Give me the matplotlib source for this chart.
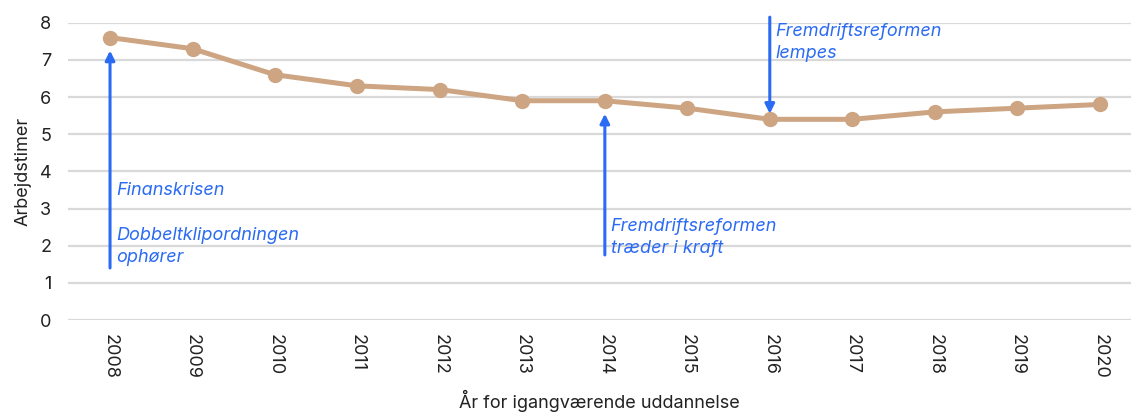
import matplotlib.pyplot as plt

years = ["2008", "2009", "2010", "2011", "2012", "2013", "2014",
         "2015", "2016", "2017", "2018", "2019", "2020"]
hours = [7.6, 7.3, 6.6, 6.3, 6.2, 5.9, 5.9, 5.7, 5.4, 5.4, 5.6, 5.7, 5.8]

# annotations: (year index, arrow start y, arrow end y, text, text y)
events = [
    (0, 1.4, 7.25, "Finanskrisen", 3.72),
    (0, None, None, "Dobbeltklipordningen\nophører", 2.5),
    (6, 1.75, 5.55, "Fremdriftsreformen\ntræder i kraft", 2.74),
    (8, 8.15, 5.55, "Fremdriftsreformen\nlempes", 8.0),
]

plt.rcParams['font.family'] = ['Inter', 'DejaVu Sans']
line_col = '#CDA582'
blue = '#2B6BF3'

fig = plt.figure(figsize=(11.31, 4.12), dpi=100)
ax = fig.add_axes([0.0601, 0.2233, 0.9399, 0.7216])

x = list(range(len(years)))
ax.plot(x, hours, color=line_col, linewidth=3.6, marker='o', markersize=10,
        zorder=3, solid_capstyle='round')

for xi, y0, y1, txt, ty in events:
    if y0 is not None:
        ax.annotate('', xy=(xi, y1), xytext=(xi, y0),
                    arrowprops=dict(arrowstyle='-|>', color=blue, lw=2.2,
                                    mutation_scale=14, shrinkA=0, shrinkB=0),
                    annotation_clip=False, zorder=4)
    ax.text(xi + 0.07, ty, txt, color=blue, fontsize=13, style='italic',
            va='top', ha='left', linespacing=1.4, zorder=5)

ax.set_xlim(-0.51, 12.38)
ax.set_ylim(0, 8)
ax.set_yticks(range(0, 9))
ax.set_xticks(x)
ax.set_xticklabels(years, rotation=-90)
ax.tick_params(axis='both', length=0, labelsize=13, colors='#222222')
ax.tick_params(axis='x', pad=10)
ax.tick_params(axis='y', pad=12)
ax.grid(axis='y', color='#D9D9D9', linewidth=1.6)
ax.set_axisbelow(True)
for s in ax.spines.values():
    s.set_visible(False)

ax.set_ylabel("Arbejdstimer", fontsize=13, color='#222222', labelpad=6)
ax.set_xlabel("År for igangværende uddannelse", fontsize=13, color='#222222',
              labelpad=8)

fig.savefig("out.png", dpi=100)
